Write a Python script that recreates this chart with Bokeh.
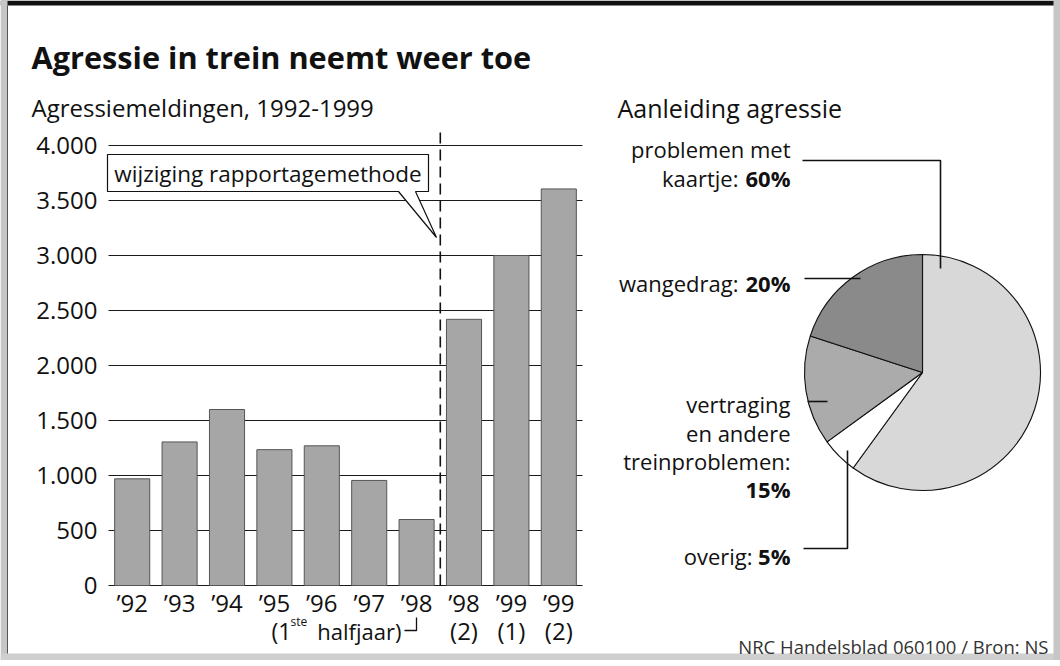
import math
from bokeh.plotting import figure
from bokeh.models import Range1d, FixedTicker
from bokeh.core.properties import value
from bokeh.embed import file_html
from bokeh.resources import INLINE

# ---------------- data ----------------
periods = ["’92", "’93", "’94", "’95", "’96", "’97", "’98", "’98", "’99", "’99"]
halves = ["", "", "", "", "", "", "", "(2)", "(1)", "(2)"]
meldingen = [970, 1305, 1600, 1235, 1270, 955, 600, 2420, 3000, 3605]
y_ticks = [0, 500, 1000, 1500, 2000, 2500, 3000, 3500, 4000]
y_tick_labels = ["0", "500", "1.000", "1.500", "2.000", "2.500", "3.000", "3.500", "4.000"]
change_after = 6  # last bar ('98, 1ste halfjaar) before the change of reporting method

pie_names = ["problemen met kaartje", "overig", "vertraging en andere treinproblemen", "wangedrag"]
pie_pct = [60, 5, 15, 20]
pie_colors = ["#d8d8d8", "#ffffff", "#ababab", "#8a8a8a"]

FONT = value("Open Sans")
INK = "#111111"

# ---------------- layout (page pixels) ----------------
W, H = 1060, 660
BAR_L, BAR_R = 108, 582          # x = -0.5 .. n-0.5
Y_ZERO, Y_4000 = 585, 145        # value 0 and 4000
n = len(periods)
ppx = (BAR_R - BAR_L) / n                 # pixels per category
ppy = (Y_ZERO - Y_4000) / 4000            # pixels per melding

x_start = -0.5 - BAR_L / ppx
x_end = -0.5 + (W - BAR_L) / ppx
y_start = -(H - Y_ZERO) / ppy
y_end = Y_ZERO / ppy

p = figure(width=W, height=H, output_backend="svg", toolbar_location=None, title=None,
           x_range=Range1d(x_start, x_end), y_range=Range1d(y_start, y_end),
           min_border=0)
p.extra_x_ranges = {"px": Range1d(0, W)}
p.extra_y_ranges = {"px": Range1d(0, H)}
p.outline_line_color = None
p.background_fill_color = "white"
p.border_fill_color = "white"
p.grid.visible = False

def Q(Y):
    return H - Y

def dval(Y):
    return (Y_ZERO - Y) / ppy

# axes fixed inside the canvas
p.yaxis.fixed_location = -0.5
p.xaxis.fixed_location = 0
p.yaxis.ticker = FixedTicker(ticks=y_ticks)
p.yaxis.major_label_overrides = {t: l for t, l in zip(y_ticks, y_tick_labels)}
p.xaxis.ticker = FixedTicker(ticks=list(range(n)))
p.xaxis.major_label_overrides = {i: l for i, l in enumerate(periods)}
for ax in (p.xaxis, p.yaxis):
    ax.axis_line_color = None
    ax.major_tick_line_color = None
    ax.minor_tick_line_color = None
    ax.major_label_text_font = "Open Sans"
    ax.major_label_text_font_size = "24px"
    ax.major_label_text_color = INK
p.yaxis.major_label_standoff = 5
p.xaxis.major_label_standoff = -6

# ---------------- frame decoration ----------------
p.quad(left=[0, 0, 0, W - 7], right=[W, 7, W, W], top=[Q(0), Q(0), Q(653), Q(0)],
       bottom=[Q(5), Q(H), Q(H), Q(H)],
       fill_color=["#111111", "#c6c6c6", "#cfcfcf", "#c6c6c6"], line_color=None,
       x_range_name="px", y_range_name="px")
p.segment(x0=[7], y0=[Q(5)], x1=[7], y1=[Q(653)], line_color="#555555", line_width=1,
          x_range_name="px", y_range_name="px")

# ---------------- bar chart ----------------
p.segment(x0=[-0.5] * len(y_ticks), x1=[n - 0.5] * len(y_ticks), y0=y_ticks, y1=y_ticks,
          line_color="#1a1a1a", line_width=1)
p.vbar(x=list(range(n)), top=meldingen, width=0.74, bottom=0,
       fill_color="#a6a6a6", line_color="#555555", line_width=1)
p.segment(x0=[change_after + 0.5], x1=[change_after + 0.5], y0=[0], y1=[dval(128)],
          line_color=INK, line_width=1.6, line_dash="11 6")

# second row of period labels (half-years)
p.text(x=list(range(n)), y=[dval(630)] * n, text=halves, text_font=FONT,
       text_font_size="24px", text_align="center", text_baseline="middle", text_color=INK)

# callout bubble (pixel space)
bx0, bx1, by0, by1 = 107, 428, 154, 191
bub_x = [bx0, bx1, bx1, 415, 436, 398, bx0]
bub_y = [by0, by0, by1, by1, 237, by1, by1]
p.patch(x=bub_x, y=[Q(v) for v in bub_y], fill_color="white", line_color=INK,
        line_width=1.2, x_range_name="px", y_range_name="px")

def t(X, Y, text, size="22px", style="normal", align="left", baseline="middle", color=INK):
    p.text(x=[X], y=[Q(Y)], text=[text], text_font=FONT, text_font_size=size,
           text_font_style=style, text_align=align, text_baseline=baseline,
           text_color=color, x_range_name="px", y_range_name="px")

t(267.5, 172.5, "wijziging rapportagemethode", size="22.5px", align="center")

# titles
t(31, 56, "Agressie in trein neemt weer toe", size="30.7px", style="bold", baseline="alphabetic")
t(31, 107, "Agressiemeldingen, 1992-1999", size="24px", baseline="alphabetic")
t(617, 107, "Aanleiding agressie", size="25px", baseline="alphabetic")

# '98 first half-year note
t(291, 630, "(1", size="23px", align="right")
t(290, 621, "ste", size="12px")
t(401, 630, "halfjaar)", size="22px", align="right")
p.line(x=[404, 416, 416], y=[Q(630), Q(630), Q(617)], line_color=INK, line_width=1.3,
       x_range_name="px", y_range_name="px")

# ---------------- pie chart ----------------
cum = 0.0
starts, ends = [], []
for pct in pie_pct:
    a_hi = math.pi / 2 - cum / 100 * 2 * math.pi
    cum += pct
    a_lo = math.pi / 2 - cum / 100 * 2 * math.pi
    starts.append(a_lo)
    ends.append(a_hi)
p.wedge(x=922, y=Q(372), radius=118, start_angle=starts, end_angle=ends,
        fill_color=pie_colors, line_color=INK, line_width=1.1,
        x_range_name="px", y_range_name="px")

leaders = [
    [(802, 160), (940, 160), (940, 268)],
    [(804, 278), (860, 278)],
    [(807, 401), (827, 401)],
    [(803, 548), (847, 548), (847, 450)],
]
p.multi_line(xs=[[a for a, b in l] for l in leaders], ys=[[Q(b) for a, b in l] for l in leaders],
             line_color=INK, line_width=1.6, x_range_name="px", y_range_name="px")

RX = 790
t(RX, 148, "problemen met", align="right")
t(RX, 177, f"{pie_pct[0]}%", style="bold", align="right")
t(RX - 52, 177, "kaartje:", align="right")
t(RX, 282, f"{pie_pct[3]}%", style="bold", align="right")
t(RX - 52, 282, "wangedrag:", align="right")
t(RX, 403, "vertraging", align="right")
t(RX, 432, "en andere", align="right")
t(RX, 460, "treinproblemen:", align="right")
t(RX, 488, f"{pie_pct[2]}%", style="bold", align="right")
t(RX, 555, f"{pie_pct[1]}%", style="bold", align="right")
t(RX - 38, 555, "overig:", align="right")
t(1048, 646, "NRC Handelsblad 060100 / Bron: NS", size="18.5px", align="right", color="#333333")

open("out.html", "w").write(file_html(p, INLINE))
